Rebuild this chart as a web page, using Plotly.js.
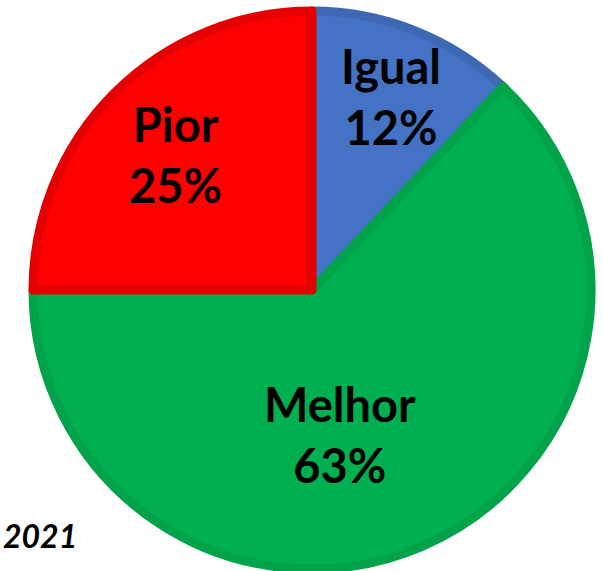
<!DOCTYPE html>
<html><head><meta charset="utf-8">
<script src="https://cdn.plot.ly/plotly-3.0.1.min.js"></script>
<style>html,body{margin:0;padding:0;overflow:hidden;background:#fff;width:603px;height:571px}#c{width:603px;height:600px}</style>
</head><body><div id="c"></div>
<script>
const labels = ['Igual', 'Melhor', 'Pior'];
const values = [12, 63, 25];
const fillColors = ['#4472C4', '#00B050', '#FF0000'];
const edgeColors = ['#3F68B2', '#00A34A', '#E40000'];
const yearLabel = '2021';

// layout: label anchor points in pixels (from top-left)
const labelPos = [[391, 97], [340, 434], [175, 154]];

const W = 603, H = 600;
const cx = 312, cyTop = 290, r = 279;
const trace = {
  type: 'pie',
  labels: labels,
  values: values,
  sort: false,
  direction: 'clockwise',
  rotation: 0,
  marker: {colors: fillColors, line: {color: edgeColors, width: 9}},
  textinfo: 'none',
  hoverinfo: 'none',
  showlegend: false,
  domain: {x: [(cx - r) / W, (cx + r) / W], y: [(H - cyTop - r) / H, (H - cyTop + r) / H]}
};
const annotations = labels.map((lab, i) => ({
  text: '<b>' + lab + '<br>' + values[i] + '%</b>',
  xref: 'paper', yref: 'paper',
  x: labelPos[i][0] / W, y: (H - labelPos[i][1]) / H,
  xanchor: 'center', yanchor: 'middle', showarrow: false, align: 'center',
  font: {family: 'Lato, sans-serif', size: 47, color: '#000'}
}));
annotations.push({
  text: '<b><i>' + yearLabel + '</i></b>',
  xref: 'paper', yref: 'paper', x: 1 / W, y: (H - 535) / H,
  xanchor: 'left', yanchor: 'middle', showarrow: false,
  font: {family: 'Lato, sans-serif', size: 32, color: '#000'}
});
const layout = {
  width: W, height: H,
  margin: {l: 0, r: 0, t: 0, b: 0},
  paper_bgcolor: '#fff',
  showlegend: false,
  annotations: annotations
};
Plotly.newPlot('c', [trace], layout, {displayModeBar: false, staticPlot: true});
</script></body></html>
